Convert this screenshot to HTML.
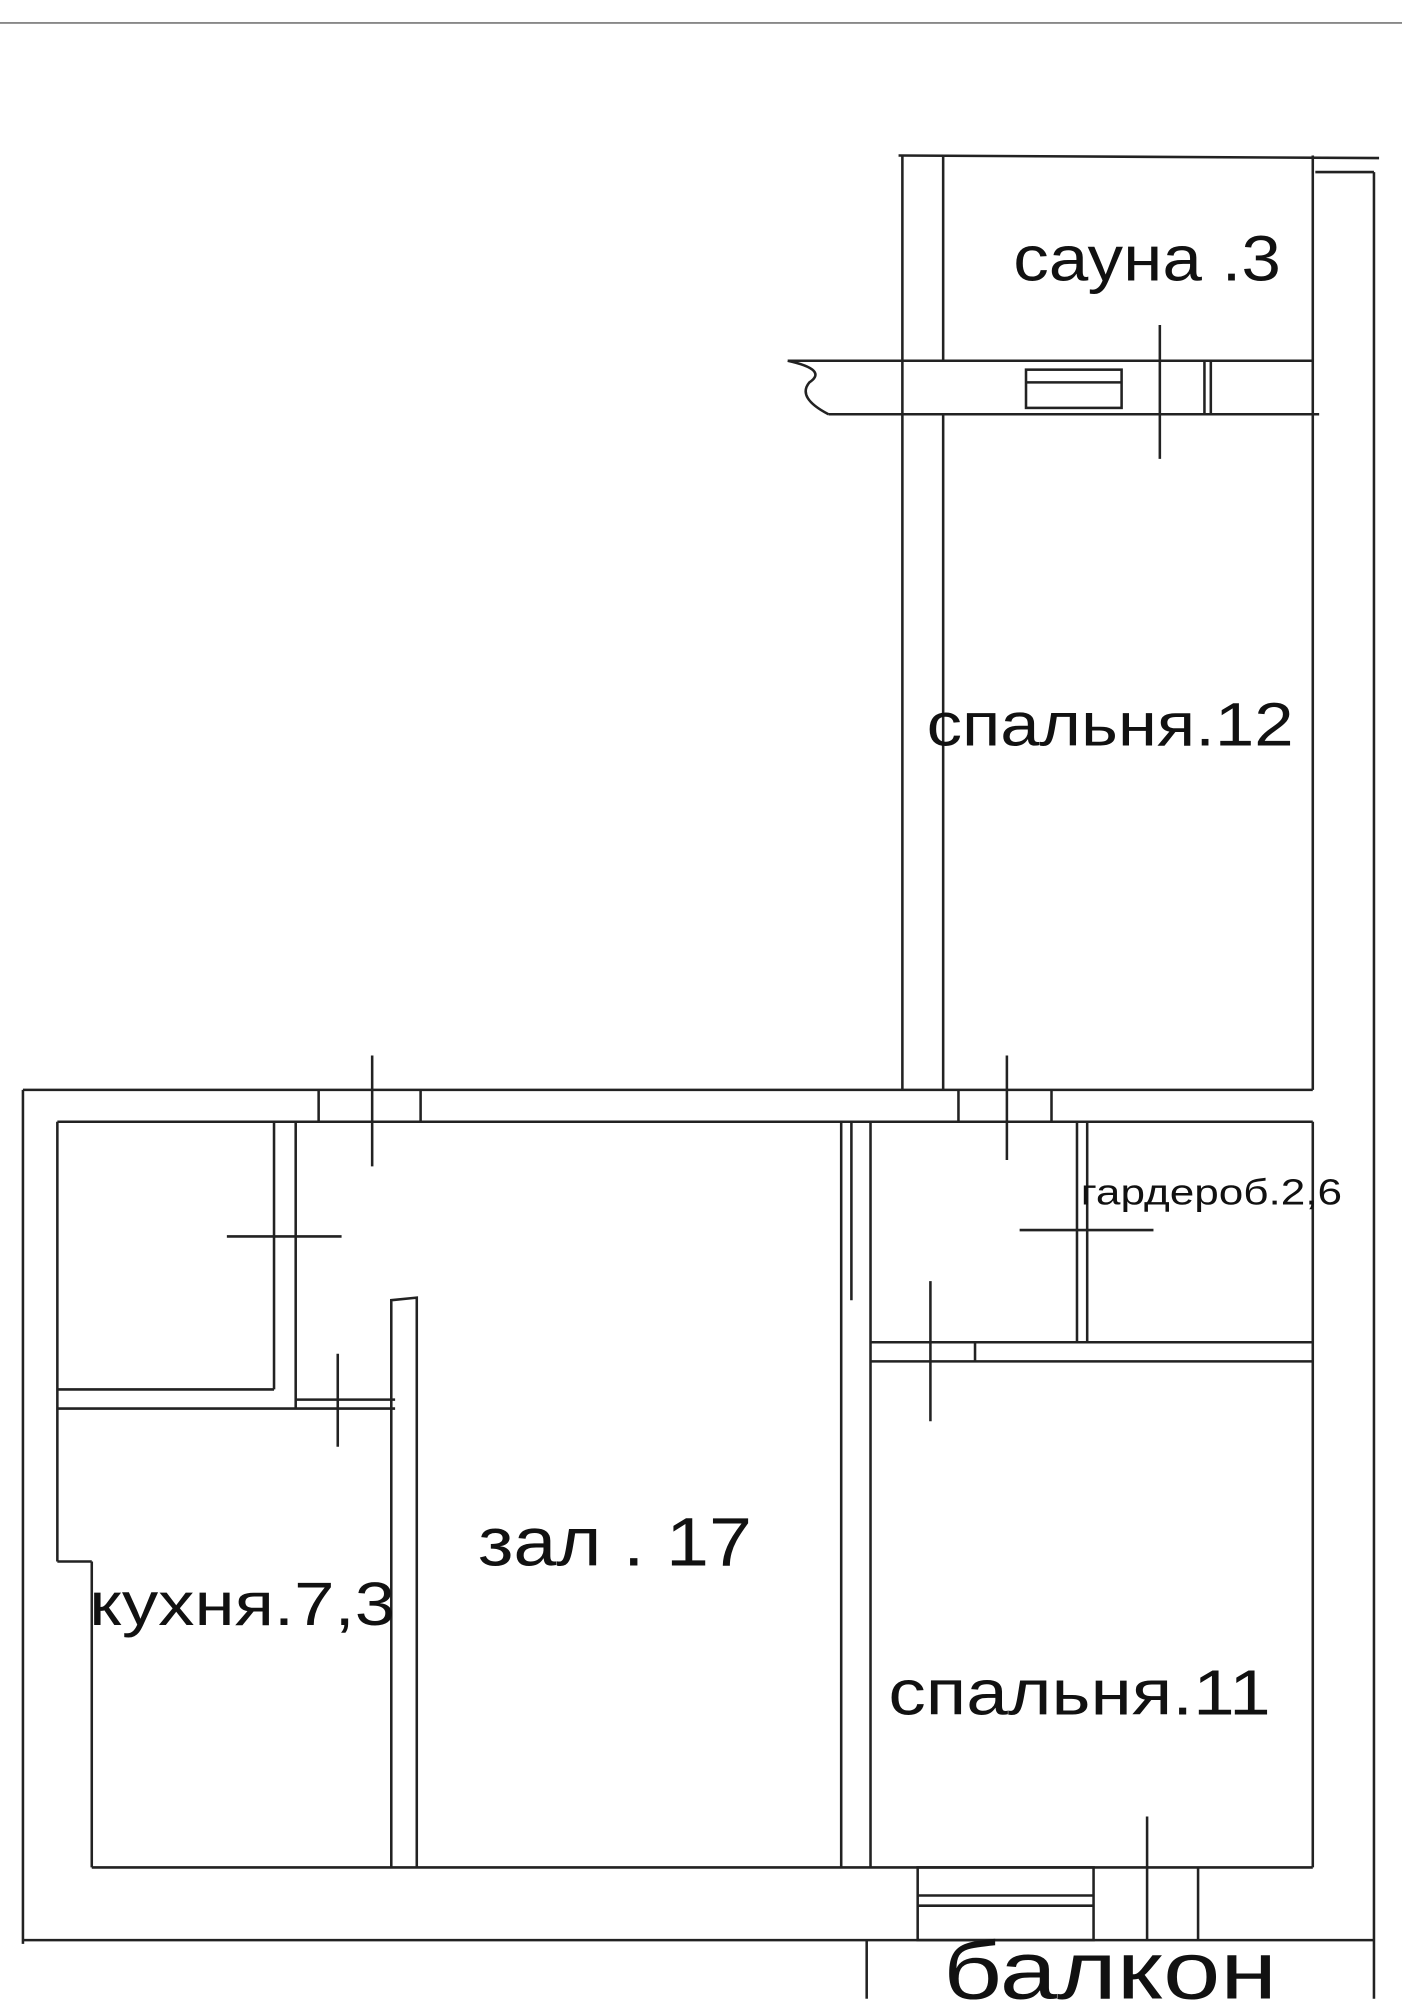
<!DOCTYPE html>
<html><head><meta charset="utf-8"><style>
html,body{margin:0;padding:0;background:#fff;}
svg{display:block}
text{font-family:"Liberation Sans",sans-serif;fill:#111}
</style></head><body>
<svg width="1402" height="2000" viewBox="0 0 1100 1569" preserveAspectRatio="none" xmlns="http://www.w3.org/2000/svg">
<g stroke="#222" stroke-width="2" fill="none">
<line x1="0" y1="18" x2="1100" y2="18" stroke="#888" stroke-width="1.5"/>
<line x1="705" y1="122" x2="1082" y2="124"/>
<line x1="708" y1="122" x2="708" y2="855"/>
<line x1="740" y1="122" x2="740" y2="283"/>
<line x1="740" y1="325" x2="740" y2="855"/>
<line x1="1030" y1="122" x2="1030" y2="855"/>
<line x1="1078" y1="135" x2="1078" y2="1568"/>
<line x1="1032" y1="135" x2="1078" y2="135"/>
<path d="M618 283 L1030 283 M650 325 L1035 325 M618 283 Q650 290 635 300 Q625 312 650 325"/>
<rect x="805" y="290" width="75" height="30"/>
<line x1="805" y1="300" x2="880" y2="300"/>
<line x1="945" y1="283" x2="945" y2="325"/>
<line x1="950" y1="283" x2="950" y2="325"/>
<line x1="910" y1="255" x2="910" y2="360"/>
<line x1="18" y1="855" x2="1030" y2="855"/>
<line x1="45" y1="880" x2="1030" y2="880"/>
<line x1="18" y1="855" x2="18" y2="1525"/>
<line x1="45" y1="880" x2="45" y2="1225"/>
<line x1="45" y1="1225" x2="72" y2="1225"/>
<line x1="72" y1="1225" x2="72" y2="1465"/>
<line x1="72" y1="1465" x2="1030" y2="1465"/>
<line x1="1030" y1="880" x2="1030" y2="1465"/>
<line x1="18" y1="1522" x2="1078" y2="1522"/>
<line x1="250" y1="855" x2="250" y2="880"/>
<line x1="330" y1="855" x2="330" y2="880"/>
<line x1="752" y1="855" x2="752" y2="880"/>
<line x1="825" y1="855" x2="825" y2="880"/>
<line x1="680" y1="1522" x2="680" y2="1568"/>
<rect x="720" y="1465" width="138" height="57"/>
<line x1="720" y1="1487" x2="858" y2="1487"/>
<line x1="720" y1="1495" x2="858" y2="1495"/>
<line x1="940" y1="1465" x2="940" y2="1522"/>
<line x1="215" y1="880" x2="215" y2="1090"/>
<line x1="232" y1="880" x2="232" y2="1105"/>
<line x1="45" y1="1090" x2="215" y2="1090"/>
<line x1="45" y1="1105" x2="310" y2="1105"/>
<line x1="232" y1="1098" x2="310" y2="1098"/>
<path d="M307 1465 L307 1020 L327 1018 L327 1465"/>
<line x1="660" y1="880" x2="660" y2="1465"/>
<line x1="683" y1="880" x2="683" y2="1465"/>
<line x1="668" y1="880" x2="668" y2="1020"/>
<line x1="845" y1="880" x2="845" y2="1053"/>
<line x1="853" y1="880" x2="853" y2="1053"/>
<line x1="683" y1="1053" x2="1030" y2="1053"/>
<line x1="683" y1="1068" x2="1030" y2="1068"/>
<line x1="765" y1="1053" x2="765" y2="1068"/>
<line x1="292" y1="828" x2="292" y2="915"/>
<line x1="790" y1="828" x2="790" y2="910"/>
<line x1="178" y1="970" x2="268" y2="970"/>
<line x1="265" y1="1062" x2="265" y2="1135"/>
<line x1="800" y1="965" x2="905" y2="965"/>
<line x1="730" y1="1005" x2="730" y2="1115"/>
<line x1="900" y1="1425" x2="900" y2="1522"/>
</g>
<text x="795" y="220" font-size="50" textLength="210" lengthAdjust="spacingAndGlyphs">сауна .3</text>
<text x="727" y="585" font-size="48" textLength="288" lengthAdjust="spacingAndGlyphs">спальня.12</text>
<text x="848" y="945" font-size="28" textLength="205" lengthAdjust="spacingAndGlyphs">гардероб.2,6</text>
<text x="375" y="1228" font-size="54" textLength="215" lengthAdjust="spacingAndGlyphs">зал . 17</text>
<text x="70" y="1275" font-size="48" textLength="240" lengthAdjust="spacingAndGlyphs">кухня.7,3</text>
<text x="697" y="1345" font-size="50" textLength="300" lengthAdjust="spacingAndGlyphs">спальня.11</text>
<text x="740" y="1568" font-size="64" textLength="262" lengthAdjust="spacingAndGlyphs">балкон</text>
</svg>
</body></html>
